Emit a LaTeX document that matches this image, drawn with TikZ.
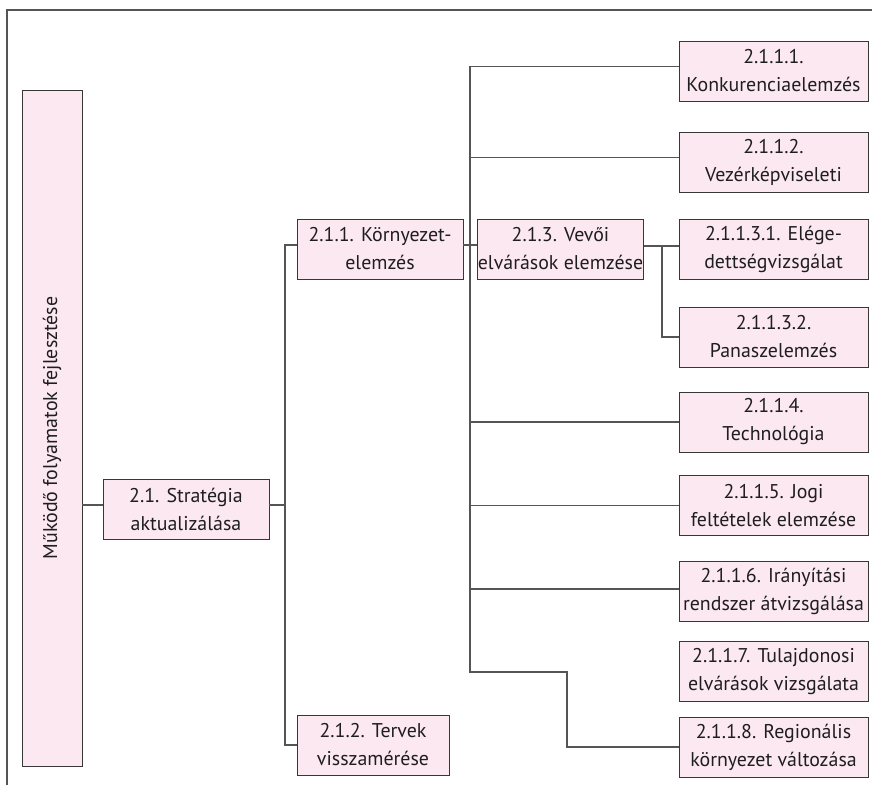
\documentclass[tikz,border=0pt]{standalone}
\usepackage{fontspec}
\usepackage{graphicx}
\setmainfont{PT Sans}
\usetikzlibrary{calc}
\definecolor{boxfill}{RGB}{252,232,241}
\definecolor{boxline}{RGB}{55,55,55}
\definecolor{connline}{RGB}{85,85,85}
\definecolor{txt}{RGB}{30,30,30}
\tikzset{
  box/.style={draw=boxline, fill=boxfill, line width=0.9pt, align=center, inner sep=0pt,
    minimum height=60pt, font=\fontsize{19.9pt}{28pt}\selectfont, text=txt},
  rbox/.style={box, minimum width=189pt},
  conn/.style={draw=connline, line width=1.2pt},
  frameline/.style={draw=connline, line width=1.3pt}
}
\begin{document}
\begin{tikzpicture}[x=1pt,y=-1pt]
\useasboundingbox (0,0) rectangle (872,785);
\draw[frameline] (7,785) -- (7,10) -- (872,10);

\node[box, minimum width=60pt, minimum height=676pt] (root) at (52,428) {\rotatebox{90}{Működő folyamatok fejlesztése}};
\node[box, minimum width=166pt] (s21) at (186,509) {2.1. Stratégia\\aktualizálása};
\node[box, minimum width=166pt] (s211) at (380,249) {2.1.1. Környezet-\\elemzés};
\node[box, minimum width=152pt] (s212) at (373,745) {2.1.2. Tervek\\visszamérése};
\node[box, minimum width=165pt] (s213) at (560.5,249) {2.1.3. Vevői\\elvárások elemzése};

\node[rbox] (b1) at (773.5,71) {2.1.1.1.\\Konkurenciaelemzés};
\node[rbox] (b2) at (773.5,162) {2.1.1.2.\\Vezérképviseleti};
\node[rbox] (b31) at (773.5,249) {2.1.1.3.1. Elége-\\dettségvizsgálat};
\node[rbox] (b32) at (773.5,337) {2.1.1.3.2.\\Panaszelemzés};
\node[rbox] (b4) at (773.5,422) {2.1.1.4.\\Technológia};
\node[rbox] (b5) at (773.5,505.5) {2.1.1.5. Jogi\\feltételek elemzése};
\node[rbox] (b6) at (773.5,591) {2.1.1.6. Irányítási\\rendszer átvizsgálása};
\node[rbox] (b7) at (773.5,671.5) {2.1.1.7. Tulajdonosi\\elvárások vizsgálata};
\node[rbox] (b8) at (773.5,747) {2.1.1.8. Regionális\\környezet változása};

\coordinate (B1) at (285,0);
\coordinate (B2) at (470,0);
\coordinate (B2end) at (470,672);
\coordinate (B3) at (567,0);
\coordinate (B4) at (662,0);

% root -> 2.1
\draw[conn] ([yshift=4pt]s21.west) -- ([yshift=4pt]s21.west -| root.east);
% 2.1 -> bus 1
\draw[conn] ([yshift=4pt]s21.east) -- ([yshift=4pt]s21.east -| B1);
\draw[conn] ([yshift=4pt]s211.west) -| (s212.west -| B1) -- (s212.west);
% 2.1.1 -> 2.1.3
\draw[conn] ([yshift=4pt]s211.east) -- ([yshift=4pt]s213.west);
% bus 2
\draw[conn] ([yshift=4.5pt]b1.west) -| (B2end) -| (b8.west -| B3) -- (b8.west);
\draw[conn] ([yshift=4.5pt]b2.west) -- ([yshift=4.5pt]b2.west -| B2);
\draw[conn] (b4.west) -- (b4.west -| B2);
\draw[conn] (b5.west) -- (b5.west -| B2);
\draw[conn] ([yshift=2pt]b6.west) -- ([yshift=2pt]b6.west -| B2);
% 2.1.3 -> children
\draw[conn] ([yshift=3pt]s213.east) -- ([yshift=3pt]b31.west);
\draw[conn] ([yshift=3pt]s213.east -| B4) |- (b32.west);
\end{tikzpicture}
\end{document}
